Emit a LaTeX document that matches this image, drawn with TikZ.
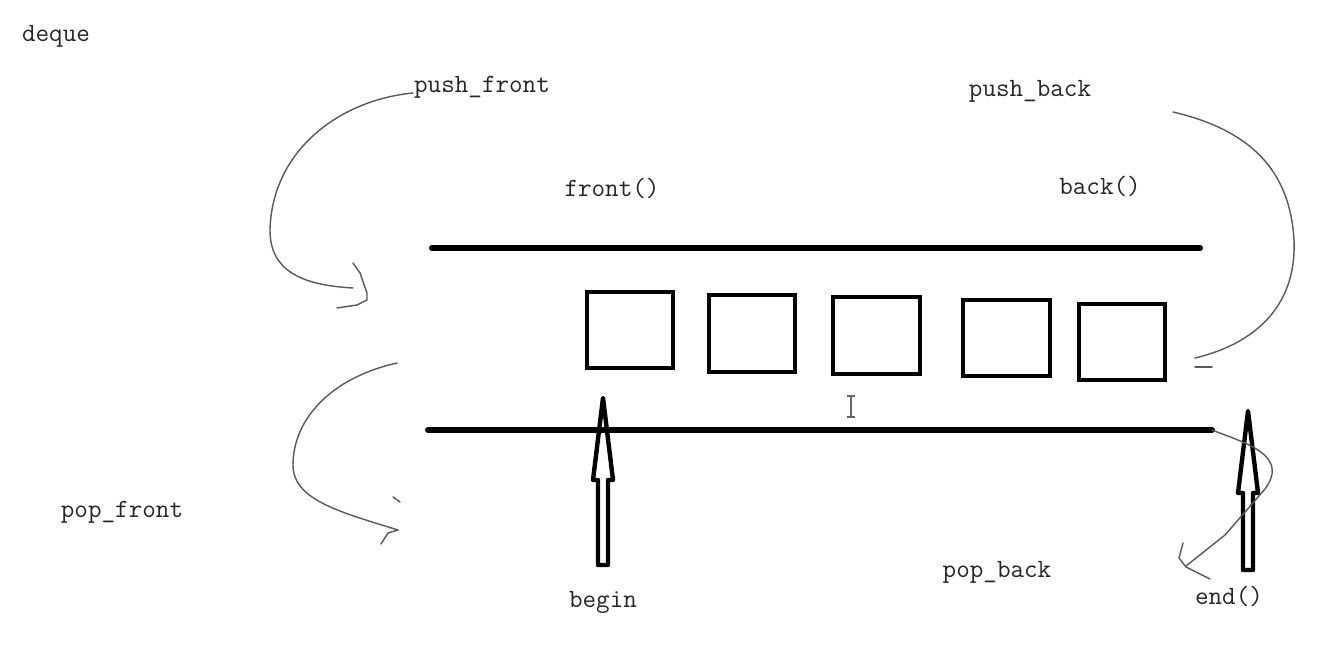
\documentclass[tikz,border=0pt]{standalone}
\begin{document}
\begin{tikzpicture}[x=0.02cm,y=-0.02cm,
  lbl/.style={font=\ttfamily\fontsize{15pt}{17pt}\selectfont, inner sep=0pt, anchor=base, text=black!85},
  rail/.style={line width=3.4pt, line cap=round},
  cell/.style={draw, line width=2.8pt, inner sep=0pt},
  hand/.style={line width=0.8pt, draw=black!65, line cap=round, line join=round},
  hollow/.style={line width=2.5pt, line join=round},
  pics/hollowup/.style={code={\draw[hollow] (0,0) -- (10,82) -- (5,82) -- (5,#1) -- (-5,#1) -- (-5,82) -- (-10,82) -- cycle;}}
]
\fill[white] (0,0) rectangle (1332,651);
\useasboundingbox (0,0) rectangle (1332,651);

% labels
\node[lbl] (deque) at (56,42) {deque};
\node[lbl] (pf) at (482,93) {push\_front};
\node[lbl] (pb) at (1030,97) {push\_back};
\node[lbl] (fr) at (612,197) {front()};
\node[lbl] (bk) at (1100,195) {back()};
\node[lbl] (pof) at (122,518) {pop\_front};
\node[lbl] (pob) at (997,578) {pop\_back};
\node[lbl] (bg) at (603,607) {begin};
\node[lbl] (en) at (1229,604) {end()};

% rails
\coordinate (tl) at (432,248); \coordinate (tr) at (1200,248);
\coordinate (bl) at (428,430); \coordinate (br) at (1212,430);
\draw[rail] (tl) -- (tr);
\draw[rail] (bl) -- (br);

% cells
\node[cell, minimum width=1.72cm, minimum height=1.52cm] (c1) at (630,330) {};
\node[cell, minimum width=1.72cm, minimum height=1.54cm] (c2) at (752,333.5) {};
\node[cell, minimum width=1.74cm, minimum height=1.54cm] (c3) at (876.5,335.5) {};
\node[cell, minimum width=1.74cm, minimum height=1.52cm] (c4) at (1006.5,338) {};
\node[cell, minimum width=1.72cm, minimum height=1.52cm] (c5) at (1122,342) {};

% iterator arrows
\coordinate (bgtip) at (603,398);
\coordinate (entip) at (1248,411);
\pic at (bgtip) {hollowup=167};
\pic at (entip) {hollowup=159};

% push_front
\coordinate (pfs) at (413,93);
\coordinate (pfe) at (353,288);
\draw[hand] (pfs) .. controls (340,100) and (272,150) .. (270,230) .. controls (270,270) and (300,285) .. (pfe);
\draw[hand] (353,263) -- (360,273) -- (367,293) -- (367,300) -- (357,305) -- (337,308);

% push_back
\coordinate (pbs) at (1173,112);
\coordinate (pbe) at (1195,358);
\draw[hand] (pbs) .. controls (1250,130) and (1290,170) .. (1294,240) .. controls (1297,310) and (1250,345) .. (pbe);
\draw[hand] (1195,367) -- (1212,367);

% pop_front
\coordinate (pofs) at (397,363);
\coordinate (pofe) at (398,530);
\draw[hand] (pofs) .. controls (330,378) and (293,420) .. (293,465) .. controls (293,500) and (340,512) .. (pofe);
\draw[hand] (pofe) -- (388,533) -- (381,544);
\draw[hand] (393,497) -- (400,502);

% pop_back
\coordinate (pobe) at (1186,566);
\draw[hand] (br) .. controls (1245,443) and (1290,455) .. (1265,489) -- (1225,535) -- (pobe);
\draw[hand] (1183,543) -- (1179,558) -- (1186,567) -- (1210,579);

% text cursor
\draw[line width=0.7pt, draw=black!60] (851,396) -- (851,417) (847,396) -- (855,396) (847,417) -- (855,417);
\end{tikzpicture}
\end{document}
